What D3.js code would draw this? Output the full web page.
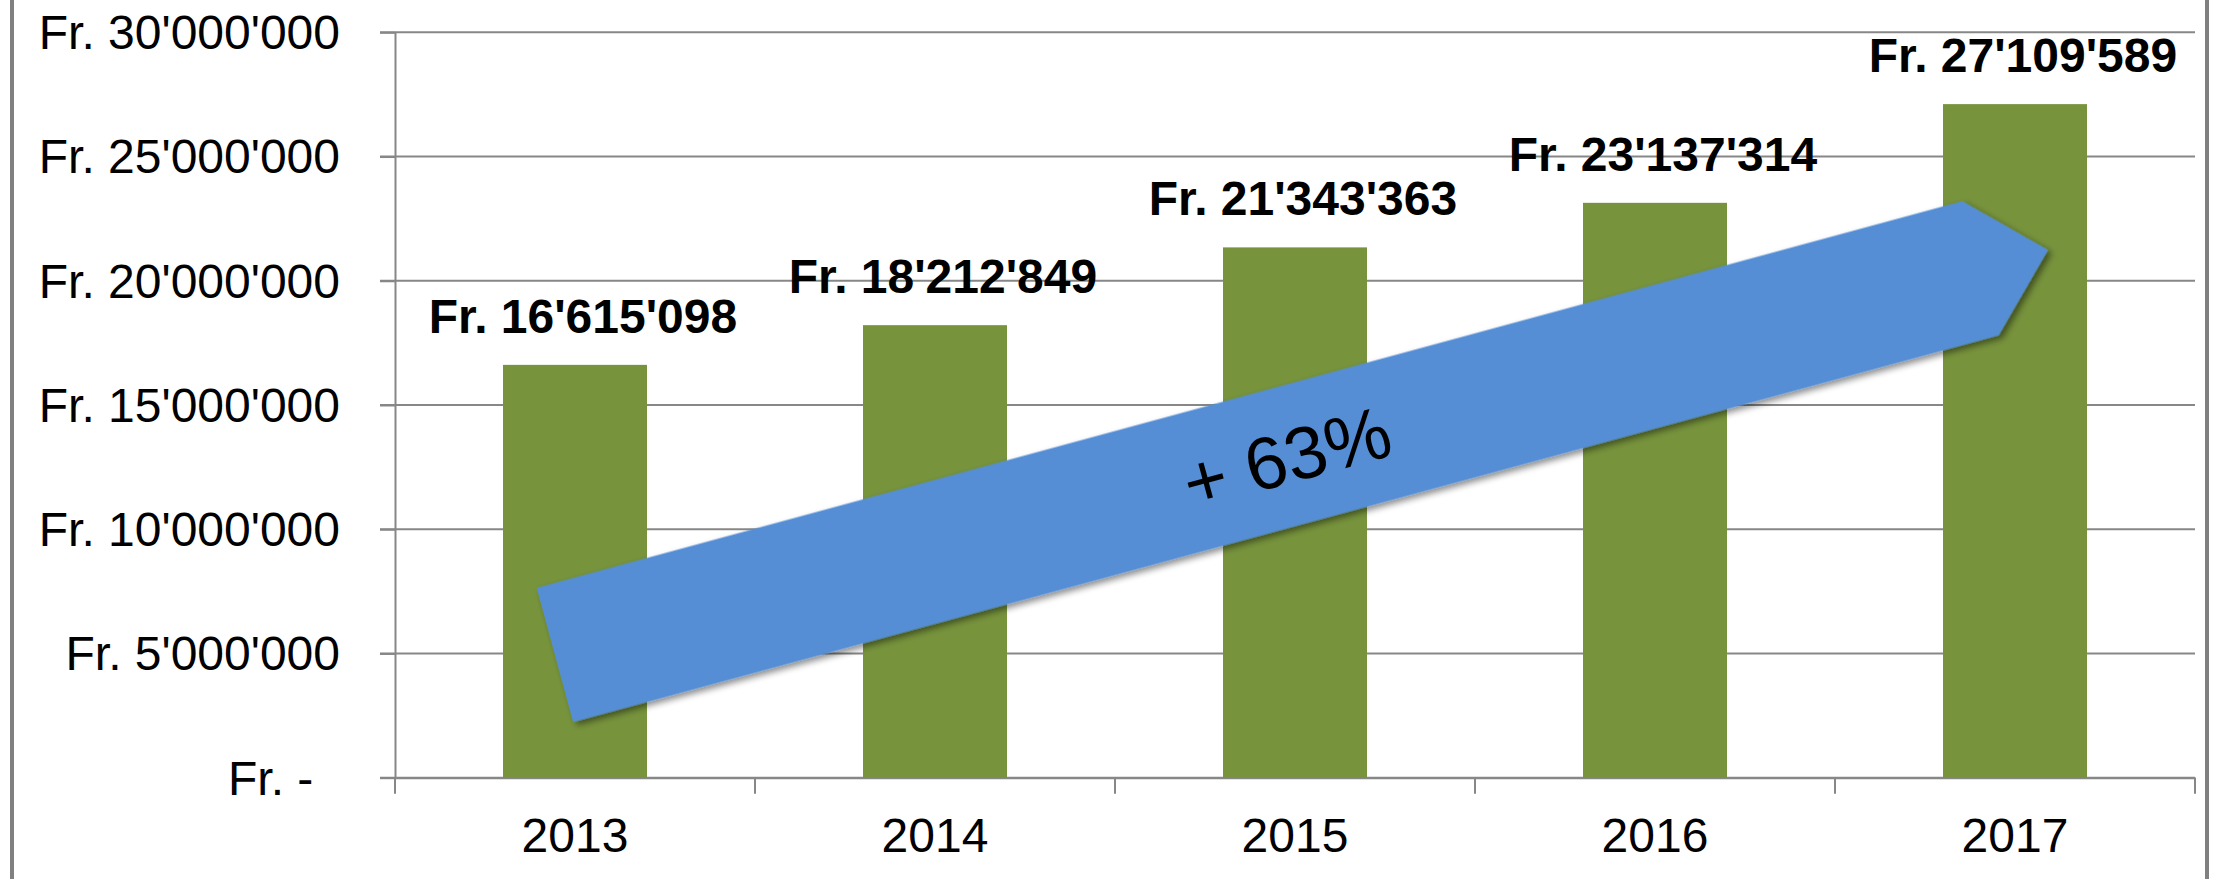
<!DOCTYPE html>
<html>
<head>
<meta charset="utf-8">
<script src="https://cdn.jsdelivr.net/npm/d3@7"></script>
<style>
  body { margin: 0; background: #fff; }
  text { font-family: "Liberation Sans", Arial, sans-serif; }
</style>
</head>
<body>
<div id="chart"></div>
<script>
// data
var years = ["2013", "2014", "2015", "2016", "2017"];
var totals = [16615098, 18212849, 21343363, 23137314, 27109589];
var yTicks = [0, 5000000, 10000000, 15000000, 20000000, 25000000, 30000000];
var yTickLabels = ["Fr. -\u00a0\u00a0", "Fr. 5'000'000", "Fr. 10'000'000", "Fr. 15'000'000",
                   "Fr. 20'000'000", "Fr. 25'000'000", "Fr. 30'000'000"];
var growthLabel = "+ 63%";
// arrow runs from a point near 2013 to a point near 2017 (year, value)
var arrowFrom = ["2013", 4940000];
var arrowTo = ["2017", 21240000];

var W = 2216, H = 879;
var margin = {top: 32.3, right: 21, bottom: 101.3, left: 395},
    width = W - margin.left - margin.right,
    height = H - margin.top - margin.bottom;

var svg = d3.select("#chart")
  .append("svg")
    .attr("width", W)
    .attr("height", H);

// outer frame (left and right edges visible)
svg.append("line").attr("x1", 12).attr("x2", 12).attr("y1", 0).attr("y2", H)
  .attr("stroke", "#808080").attr("stroke-width", 4);
svg.append("line").attr("x1", 2207).attr("x2", 2207).attr("y1", 0).attr("y2", H)
  .attr("stroke", "#808080").attr("stroke-width", 4);

var g = svg.append("g")
  .attr("transform", "translate(" + margin.left + "," + margin.top + ")");

var x = d3.scaleBand()
  .domain(years)
  .range([0, width])
  .paddingInner(0.6)
  .paddingOuter(0.3);

var y = d3.scaleLinear()
  .domain([0, 30000000])
  .range([height, 0]);

var gridColor = "#878787";

// gridlines
g.append("g")
  .selectAll("line")
  .data(yTicks)
  .enter()
  .append("line")
    .attr("x1", -15)
    .attr("x2", width)
    .attr("y1", function(d) { return y(d); })
    .attr("y2", function(d) { return y(d); })
    .attr("stroke", gridColor)
    .attr("stroke-width", 2);

// y axis
var yAxis = g.append("g")
  .call(d3.axisLeft(y)
    .tickValues(yTicks)
    .tickSize(15)
    .tickSizeOuter(0)
    .tickPadding(40)
    .tickFormat(function(d, i) { return yTickLabels[i]; }));
yAxis.select(".domain").attr("stroke", gridColor).attr("stroke-width", 2);
yAxis.selectAll(".tick line").attr("stroke", gridColor).attr("stroke-width", 2);
yAxis.selectAll(".tick text")
  .attr("font-size", 48)
  .attr("font-family", "Liberation Sans, Arial, sans-serif")
  .attr("fill", "#000")
  .attr("dy", "0.34em")
  .style("white-space", "pre");

// x axis
var xAxis = g.append("g")
  .attr("transform", "translate(0," + height + ")")
  .call(d3.axisBottom(x).tickSize(0).tickPadding(40));
xAxis.select(".domain").attr("stroke", gridColor).attr("stroke-width", 2);
xAxis.selectAll(".tick text")
  .attr("font-size", 48)
  .attr("font-family", "Liberation Sans, Arial, sans-serif")
  .attr("fill", "#000");

// category boundary ticks
var gap = (x.step() - x.bandwidth()) / 2;
var bounds = years.map(function(d) { return x(d) - gap; }).concat([width]);
g.append("g")
  .selectAll("line")
  .data(bounds)
  .enter()
  .append("line")
    .attr("x1", function(d) { return d; })
    .attr("x2", function(d) { return d; })
    .attr("y1", height)
    .attr("y2", height + 16)
    .attr("stroke", gridColor)
    .attr("stroke-width", 2);

// bars
var data = years.map(function(d, i) { return {year: d, value: totals[i]}; });
g.append("g")
  .selectAll("rect")
  .data(data)
  .enter()
  .append("rect")
    .attr("x", function(d) { return x(d.year); })
    .attr("y", function(d) { return y(d.value); })
    .attr("width", x.bandwidth())
    .attr("height", function(d) { return height - y(d.value); })
    .attr("fill", "#77933c");

// value labels
var fmt = d3.formatLocale({decimal: ".", thousands: "'", grouping: [3], currency: ["", ""]}).format(",");
g.append("g")
  .selectAll("text")
  .data(data)
  .enter()
  .append("text")
    .attr("x", function(d) { return x(d.year) + x.bandwidth() / 2 + 8; })
    .attr("y", function(d) { return y(d.value) - 32; })
    .attr("text-anchor", "middle")
    .attr("font-size", 48)
    .attr("font-weight", "bold")
    .text(function(d) { return "Fr. " + fmt(d.value); });

// growth arrow
var defs = svg.append("defs");
var shadow = defs.append("filter").attr("id", "shadow")
  .attr("x", "-5%").attr("y", "-20%").attr("width", "110%").attr("height", "140%");
shadow.append("feDropShadow")
  .attr("dx", 3).attr("dy", 4).attr("stdDeviation", 3)
  .attr("flood-color", "#000").attr("flood-opacity", 0.45);

var sx = x(arrowFrom[0]) + x.bandwidth() / 2 - 20, sy = y(arrowFrom[1]);
var tx = x(arrowTo[0]) + x.bandwidth() / 2 + 33, ty = y(arrowTo[1]);
var len = Math.sqrt((tx - sx) * (tx - sx) + (ty - sy) * (ty - sy));
var ang = Math.atan2(ty - sy, tx - sx) * 180 / Math.PI;
var half = 69.5, head = 70;

var arrow = g.append("g")
  .attr("transform", "translate(" + sx + "," + sy + ") rotate(" + ang + ")");
arrow.append("path")
  .attr("d", d3.line()([[0, -half], [len - head, -half], [len, 0], [len - head, half], [0, half]]) + "Z")
  .attr("fill", "#558ed5")
  .attr("filter", "url(#shadow)");
arrow.append("text")
  .attr("x", len * 0.49)
  .attr("y", 0)
  .attr("dy", "0.36em")
  .attr("text-anchor", "middle")
  .attr("font-size", 74)
  .attr("fill", "#000")
  .text(growthLabel);
</script>
</body>
</html>
